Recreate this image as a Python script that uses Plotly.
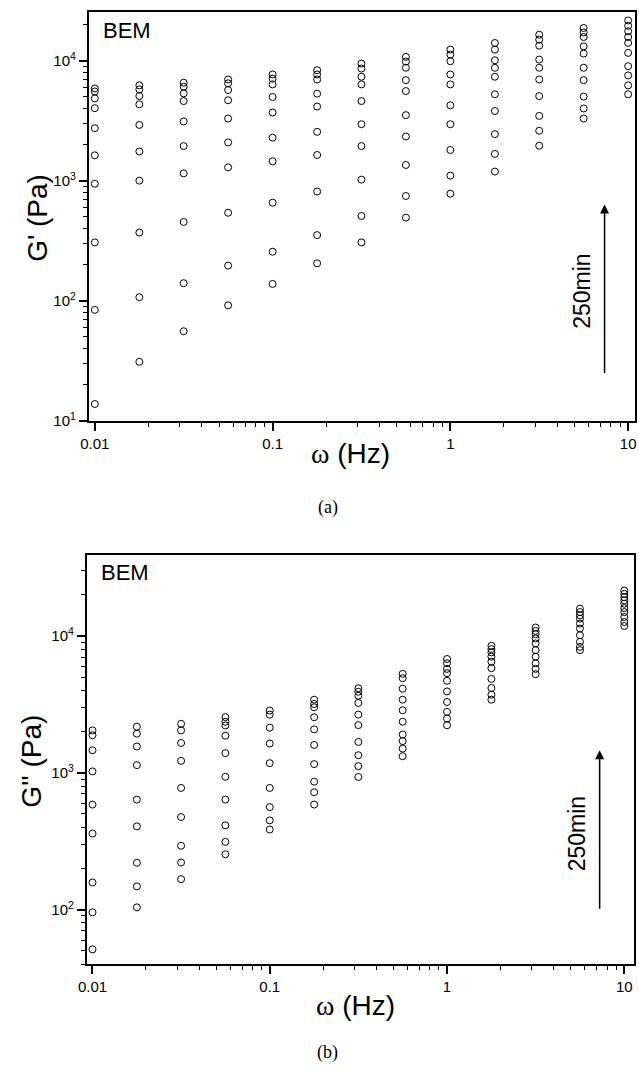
import plotly.graph_objects as go

# ---- data ----
freqs = [0.01, 0.0178, 0.0316, 0.0562, 0.1, 0.178, 0.316, 0.562, 1.0, 1.78, 3.16, 5.62, 10.0]

# G' (Pa), one list per curing time (latest first)
gp_1 = [5860, 6210, 6540, 6960, 7660, 8310, 9440, 10730, 12330, 14000, 16400, 18680, 21560]
gp_2 = [5530, 5750, 6050, 6460, 7070, 7660, 8580, 9810, 11210, 12330, 14930, 17150, 19500]
gp_3 = [4840, 5060, 5330, 5680, 6330, 6960, 7330, 8710, 9870, 10050, 13300, 15710, 17510]
gp_4 = [4010, 4320, 4600, 4670, 4970, 5300, 6330, 6870, 7660, 8710, 10190, 13130, 15710]
gp_5 = [2735, 2910, 3110, 3290, 3690, 4140, 4600, 5570, 6330, 7330, 8710, 11430, 14030]
gp_6 = [1625, 1750, 1940, 2080, 2280, 2550, 2950, 3510, 4240, 5240, 6960, 8710, 11580]
gp_7 = [942, 1000, 1150, 1290, 1450, 1635, 1940, 2330, 2950, 3800, 5060, 6870, 8980]
gp_8 = [306, 370, 453, 540, 655, 813, 1020, 1350, 1800, 2440, 3460, 5010, 7520]
gp_9 = [84, 107, 140, 196, 256, 352, 508, 745, 1100, 1670, 2600, 3990, 6210]
gp_10 = [13.8, 31, 55.7, 91.5, 138, 205, 306, 492, 778, 1190, 1955, 3290, 5240]

# G'' (Pa)
gpp_1 = [2040, 2170, 2280, 2550, 2850, 3420, 4140, 5280, 6780, 8470, 11510, 15800, 21440]
gpp_2 = [1880, 1930, 2040, 2360, 2660, 3180, 3905, 4910, 6310, 8010, 10870, 14930, 20270]
gpp_3 = [1460, 1555, 1650, 2215, 2135, 3010, 3655, 4110, 5740, 7580, 10290, 14130, 19170]
gpp_4 = [1023, 1137, 1222, 1865, 1635, 2545, 3235, 3420, 5340, 7050, 9570, 13360, 18150]
gpp_5 = [586, 637, 775, 1390, 1175, 2075, 2660, 2860, 4700, 6480, 8810, 12300, 17180]
gpp_6 = [360, 406, 475, 935, 775, 1597, 2230, 2360, 3930, 5810, 7870, 11320, 15960]
gpp_7 = [158, 220, 293, 637, 561, 1157, 1680, 1905, 3290, 4850, 7040, 10120, 14930]
gpp_8 = [95.7, 148, 221, 413, 449, 861, 1343, 1705, 2785, 4160, 6310, 9050, 13730]
gpp_9 = [51.3, 104, 167, 313, 385, 721, 1118, 1503, 2490, 3720, 5740, 8310, 12630]
gpp_10 = [None, None, None, 254, None, 586, 931, 1322, 2225, 3420, 5250, 7870, 11810]

gp_curves = [gp_1, gp_2, gp_3, gp_4, gp_5, gp_6, gp_7, gp_8, gp_9, gp_10]
gpp_curves = [gpp_1, gpp_2, gpp_3, gpp_4, gpp_5, gpp_6, gpp_7, gpp_8, gpp_9, gpp_10]

x_tickvals = [0.01, 0.1, 1, 10]
x_ticktext = ["0.01", "0.1", "1", "10"]
y1_tickvals = [10, 100, 1000, 10000]
y1_ticktext = ["10<sup>1</sup>", "10<sup>2</sup>", "10<sup>3</sup>", "10<sup>4</sup>"]
y2_tickvals = [100, 1000, 10000]
y2_ticktext = ["10<sup>2</sup>", "10<sup>3</sup>", "10<sup>4</sup>"]

W, H = 639, 1070
SANS = "Liberation Sans, Arial, sans-serif"
SERIF = "Liberation Serif, Times New Roman, serif"

fig = go.Figure()
marker = dict(symbol="circle-open", size=7, color="black", line=dict(width=1, color="black"))
for c in gp_curves:
    fig.add_trace(go.Scatter(x=freqs, y=c, mode="markers", marker=marker,
                             xaxis="x", yaxis="y", showlegend=False))
for c in gpp_curves:
    fig.add_trace(go.Scatter(x=freqs, y=c, mode="markers", marker=marker,
                             xaxis="x2", yaxis="y2", showlegend=False))


def minor_vals(e0, e1):
    return [m * 10 ** e for e in range(e0, e1 + 1) for m in range(2, 10)]


common = dict(type="log", showline=True, mirror=True, linecolor="black", linewidth=1.5,
              ticks="outside", ticklen=8, tickwidth=1.5, tickcolor="black",
              showgrid=False, zeroline=False,
              tickfont=dict(family=SANS, size=15, color="black"))


def px_x(p):
    return p / W


def px_y(p):
    return 1 - p / H


fig.update_layout(
    width=W, height=H, margin=dict(l=0, r=0, t=0, b=0),
    paper_bgcolor="white", plot_bgcolor="white",
    xaxis=dict(common, domain=[px_x(81), px_x(636.7)], range=[-2.035, 1.037],
               tickvals=x_tickvals, ticktext=x_ticktext, anchor="y",
               minor=dict(ticks="outside", ticklen=4, tickwidth=1, tickcolor="black",
                          tickvals=minor_vals(-2, 0), showgrid=False)),
    yaxis=dict(common, domain=[px_y(424), px_y(12)], range=[1, 4.405],
               tickvals=y1_tickvals, ticktext=y1_ticktext, anchor="x",
               minor=dict(ticks="outside", ticklen=4, tickwidth=1, tickcolor="black",
                          tickvals=minor_vals(1, 4), showgrid=False)),
    xaxis2=dict(common, domain=[px_x(79), px_x(636)], range=[-2.033, 1.055],
                tickvals=x_tickvals, ticktext=x_ticktext, anchor="y2",
                minor=dict(ticks="outside", ticklen=4, tickwidth=1, tickcolor="black",
                           tickvals=minor_vals(-2, 1), showgrid=False)),
    yaxis2=dict(common, domain=[px_y(971.7), px_y(559.3)], range=[1.60, 4.59],
                tickvals=y2_tickvals, ticktext=y2_ticktext, anchor="x2",
                minor=dict(ticks="outside", ticklen=4, tickwidth=1, tickcolor="black",
                           tickvals=minor_vals(1, 4), showgrid=False)),
)

omega = "<span style=\"font-family:'Liberation Serif'\">ω</span> (Hz)"
ann = [
    dict(text="BEM", x=px_x(120), y=px_y(31), size=22, family=SANS, angle=0),
    dict(text="BEM", x=px_x(118), y=px_y(577), size=22, family=SANS, angle=0),
    dict(text="G' (Pa)", x=px_x(29), y=px_y(220), size=28, family=SANS, angle=-90),
    dict(text="G'' (Pa)", x=px_x(23), y=px_y(767), size=28, family=SANS, angle=-90),
    dict(text=omega, x=px_x(347), y=px_y(457), size=28, family=SANS, angle=0),
    dict(text=omega, x=px_x(353), y=px_y(1013), size=28, family=SANS, angle=0),
    dict(text="(a)", x=px_x(325), y=px_y(511), size=18, family=SERIF, angle=0),
    dict(text="(b)", x=px_x(324), y=px_y(1060), size=18, family=SERIF, angle=0),
    dict(text="250min", x=px_x(583), y=px_y(293), size=23, family=SANS, angle=-90),
    dict(text="250min", x=px_x(577.5), y=px_y(840), size=23, family=SANS, angle=-90),
]
for a in ann:
    fig.add_annotation(text=a["text"], x=a["x"], y=a["y"], xref="paper", yref="paper",
                       xanchor="center", yanchor="middle", showarrow=False,
                       textangle=a["angle"],
                       font=dict(family=a["family"], size=a["size"], color="black"))

# arrows indicating increasing curing time
for hx, hy, length in [(606, 206, 170), (601, 756, 160)]:
    fig.add_annotation(text="", x=px_x(hx), y=px_y(hy), xref="paper", yref="paper",
                       ax=0, ay=length, showarrow=True, arrowhead=2, arrowsize=1.2,
                       arrowwidth=1.5, arrowcolor="black")

fig.write_html("out.html")
